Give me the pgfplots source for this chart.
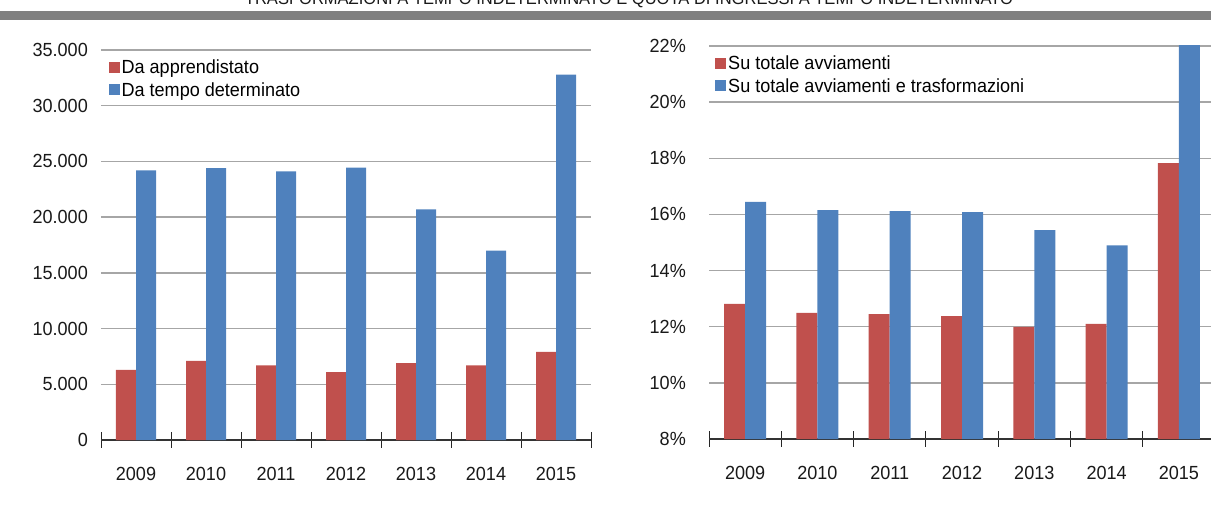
\documentclass[border=0pt]{standalone}
\usepackage{pgfplots}
\pgfplotsset{compat=1.18}
\usepackage{fontspec}
\setmainfont[FakeStretch=0.95]{Liberation Sans}
\definecolor{cred}{HTML}{C0504D}
\definecolor{cblue}{HTML}{4F81BD}
\definecolor{cgrid}{HTML}{A6A6A6}
\definecolor{cbar}{HTML}{808080}
\pgfplotsset{
  common/.style={
    scale only axis,
    ybar=0pt,
    scaled y ticks=false,
    xmin=-0.5, xmax=6.5,
    xtick={0,...,6},
    xticklabels={2009,2010,2011,2012,2013,2014,2015},
    minor xtick={-0.5,0.5,...,6.5},
    major tick length=0pt,
    minor tick length=15pt,
    tick align=center,
    minor tick style={black!85, line width=0.9pt},
    axis x line*=bottom,
    axis y line*=left,
    y axis line style={draw=none},
    x axis line style={black!80, line width=1.2pt},
    ymajorgrids,
    major grid style={cgrid, line width=1.4pt},
    tick label style={font=\fontsize{19pt}{22pt}\selectfont, text=black!90},
    xticklabel style={anchor=base, yshift=-40pt},
    legend style={draw=none, fill=none, anchor=north west,
      font=\fontsize{19pt}{22pt}\selectfont,
      legend cell align=left, row sep=3pt,
      nodes={inner sep=2pt}},
    legend image code/.code={\fill[##1] (-3pt,-5.5pt) rectangle (8pt,5.5pt);},
  }
}
\begin{document}
\begin{tikzpicture}
\useasboundingbox (0,0) rectangle (1211pt,520pt);
\node[anchor=base, font=\fontsize{17.4pt}{20pt}\selectfont, text=black!90] at (629pt,515pt)
  {TRASFORMAZIONI A TEMPO INDETERMINATO E QUOTA DI INGRESSI A TEMPO INDETERMINATO};
\fill[cbar] (0pt,500pt) rectangle (1211pt,509pt);

\begin{axis}[common,
  at={(101pt,80pt)}, anchor=south west,
  width=490pt, height=390pt,
  bar width=20pt,
  ymin=0, ymax=35000,
  ytick={0,5000,10000,15000,20000,25000,30000,35000},
  yticklabels={0,5.000,10.000,15.000,20.000,25.000,30.000,35.000},
  yticklabel style={anchor=east, inner sep=0pt, xshift=-13pt},
  legend style={at={(axis description cs:0.009,0.985)}},
]
\addplot[fill=cred, draw=none] coordinates {(0,6300) (1,7100) (2,6700) (3,6100) (4,6900) (5,6700) (6,7900)};
\addplot[fill=cblue, draw=none] coordinates {(0,24200) (1,24400) (2,24100) (3,24450) (4,20700) (5,17000) (6,32800)};
\legend{Da apprendistato, Da tempo determinato}
\end{axis}

\begin{axis}[common,
  at={(709pt,81pt)}, anchor=south west,
  width=506pt, height=393pt,
  bar width=21pt,
  ymin=8, ymax=22,
  ytick={8,10,...,22},
  yticklabels={8\%,10\%,12\%,14\%,16\%,18\%,20\%,22\%},
  yticklabel style={anchor=east, inner sep=0pt, xshift=-23pt},
  legend style={at={(axis description cs:0.006,0.985)}},
]
\addplot[fill=cred, draw=none] coordinates {(0,12.81) (1,12.49) (2,12.45) (3,12.38) (4,11.99) (5,12.10) (6,17.83)};
\addplot[fill=cblue, draw=none] coordinates {(0,16.45) (1,16.15) (2,16.12) (3,16.08) (4,15.44) (5,14.90) (6,22.40)};
\legend{Su totale avviamenti, Su totale avviamenti e trasformazioni}
\end{axis}
\end{tikzpicture}
\end{document}
